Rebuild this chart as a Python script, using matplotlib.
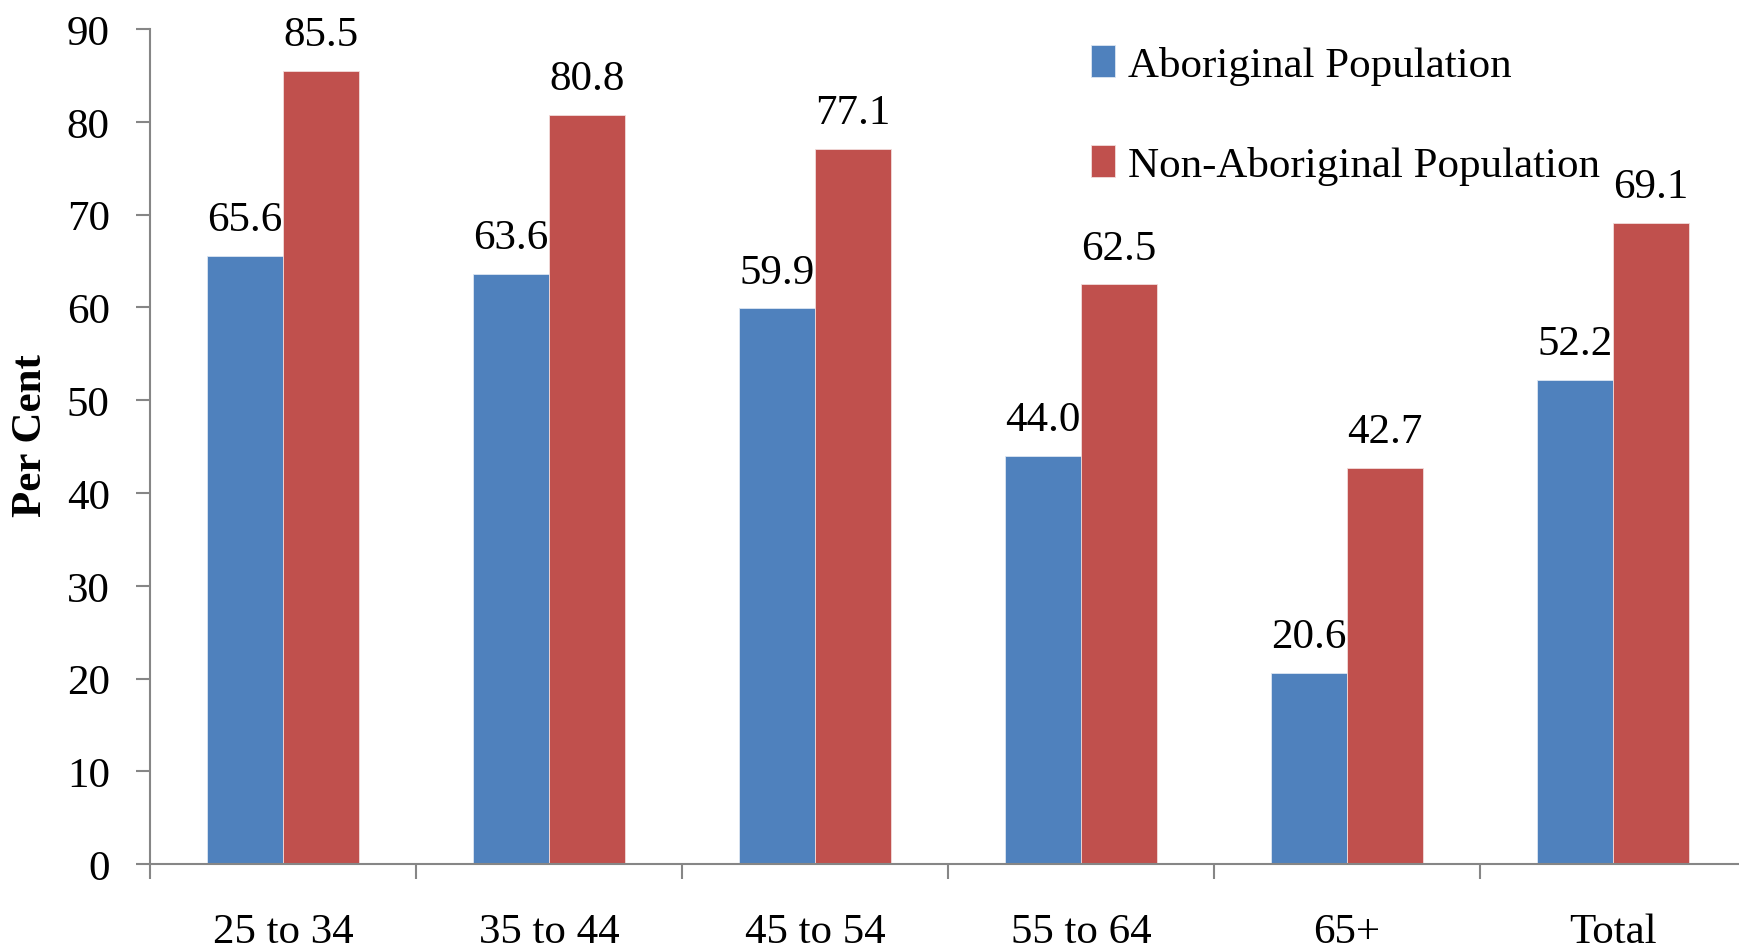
"""Employment rate by age group, Aboriginal vs non-Aboriginal population."""
import matplotlib.pyplot as plt
import numpy as np

categories = ["25 to 34", "35 to 44", "45 to 54", "55 to 64", "65+", "Total"]
aboriginal = [65.6, 63.6, 59.9, 44.0, 20.6, 52.2]
non_aboriginal = [85.5, 80.8, 77.1, 62.5, 42.7, 69.1]
series_names = ["Aboriginal Population", "Non-Aboriginal Population"]

plt.rcParams["font.family"] = ["Liberation Serif", "DejaVu Serif"]
FS = 31

fig = plt.figure(figsize=(17.39, 9.53), dpi=100)
ax = fig.add_axes([0.0863, 0.0923, 0.9177, 0.876])

xs = np.arange(len(categories))
w = 0.286
b1 = ax.bar(xs - w / 2, aboriginal, w, color="#4F81BD", edgecolor="#DCE6F2",
            linewidth=0.6, label=series_names[0])
b2 = ax.bar(xs + w / 2, non_aboriginal, w, color="#C0504D", edgecolor="#F2DCDB",
            linewidth=0.6, label=series_names[1])

for bars, vals in ((b1, aboriginal), (b2, non_aboriginal)):
    for rect, v in zip(bars, vals):
        ax.annotate(f"{v:.1f}", (rect.get_x() + rect.get_width() / 2, v),
                    xytext=(0, 12), textcoords="offset points",
                    ha="center", va="bottom", fontsize=FS)

# Axis formatting.
ax.set_xlim(-0.5, len(categories) - 0.5)
ax.set_ylim(0, 90)
ax.set_yticks(range(0, 91, 10))
ax.set_xticks(np.arange(len(categories) + 1) - 0.5)
ax.set_xticklabels([])
ax.set_xticks(xs, minor=True)
ax.set_xticklabels(categories, minor=True)
ax.tick_params(axis="x", which="major", length=11, width=1.5, color="#868686")
ax.tick_params(axis="x", which="minor", length=0, pad=35, labelsize=FS)
ax.tick_params(axis="y", length=10, width=1.5, color="#868686", pad=19, labelsize=FS)
for s in ("top", "right"):
    ax.spines[s].set_visible(False)
for s in ("left", "bottom"):
    ax.spines[s].set_color("#868686")
    ax.spines[s].set_linewidth(1.5)

ax.set_ylabel("Per Cent", fontsize=FS, fontweight="bold")
ax.yaxis.set_label_coords(-0.0627, 0.515)

ax.legend(loc="upper left", bbox_to_anchor=(0.5655, 1.028), frameon=False,
          fontsize=FS, handlelength=0.56, handleheight=0.78, handletextpad=0.3,
          labelspacing=1.4)

fig.savefig("out.png", dpi=100)
